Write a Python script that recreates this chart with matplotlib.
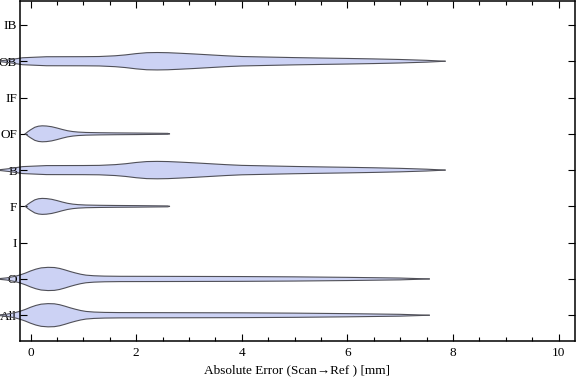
import numpy as np
import matplotlib.pyplot as plt
from matplotlib.ticker import MultipleLocator

plt.rcParams['font.family'] = ['Liberation Serif', 'DejaVu Serif']

# categories, bottom to top
categories = ["All", "O", "I", "F", "B", "OF", "IF", "OB", "IB"]

# violin outlines: error (mm) -> half width (row units)
o_x = [-0.59, -0.45, -0.3, -0.2, -0.1, 0.0, 0.1, 0.2, 0.33, 0.45, 0.55, 0.65, 0.75, 0.85,
       0.95, 1.05, 1.2, 1.4, 1.7, 2.5, 4.0, 5.0, 6.0, 7.0, 7.55]
o_w = [0.01, 0.03, 0.07, 0.11, 0.16, 0.22, 0.27, 0.305, 0.32, 0.315, 0.29, 0.25, 0.205, 0.165,
       0.13, 0.105, 0.088, 0.078, 0.073, 0.071, 0.066, 0.058, 0.044, 0.025, 0.0]

ob_x = [-0.59, -0.4, -0.15, 0.3, 1.0, 1.3, 1.6, 1.8, 2.0, 2.2, 2.4, 2.6, 2.8, 3.1, 3.4, 3.7,
        4.0, 4.5, 5.0, 5.5, 6.0, 6.5, 7.0, 7.5, 7.85]
ob_w = [0.01, 0.04, 0.096, 0.124, 0.126, 0.13, 0.15, 0.175, 0.21, 0.235, 0.24, 0.235, 0.222,
        0.2, 0.175, 0.15, 0.13, 0.115, 0.1, 0.088, 0.077, 0.064, 0.048, 0.025, 0.0]

f_x = [-0.1, -0.05, 0.0, 0.08, 0.15, 0.22, 0.3, 0.4, 0.5, 0.6, 0.7, 0.8, 0.9, 1.05, 1.3,
       1.6, 2.0, 2.6, 2.63]
f_w = [0.0, 0.06, 0.11, 0.18, 0.21, 0.22, 0.215, 0.195, 0.16, 0.12, 0.085, 0.062, 0.048,
       0.037, 0.03, 0.025, 0.021, 0.012, 0.0]

profiles = {
    "All": (o_x, o_w),
    "O": (o_x, o_w),
    "F": (f_x, f_w),
    "B": (ob_x, ob_w),
    "OF": (f_x, f_w),
    "OB": (ob_x, ob_w),
}

fig = plt.figure(figsize=(5.76, 3.81), dpi=100)
ax = fig.add_axes([20 / 576, 40 / 381, 555 / 576, 340 / 381])

fill_col = "#ccd2f4"
edge_col = "#505058"

for i, cat in enumerate(categories):
    y0 = i + 1
    if cat not in profiles:
        continue
    xs, ws = profiles[cat]
    xs = np.array(xs)
    ws = np.array(ws)
    # fill under the tick labels, outline on top (as in the original)
    ax.fill_between(xs, y0 - ws, y0 + ws, facecolor=fill_col, edgecolor="none",
                    zorder=1, clip_on=False)
    ax.plot(xs, y0 + ws, color=edge_col, lw=0.8, zorder=2.1, clip_on=False)
    ax.plot(xs, y0 - ws, color=edge_col, lw=0.8, zorder=2.1, clip_on=False)

ax.set_xlim(-0.2, 10.31)
ax.set_ylim(0.29, 9.66)
ax.set_yticks(range(1, len(categories) + 1))
ax.set_yticklabels(categories)
ax.xaxis.set_major_locator(MultipleLocator(2))
ax.xaxis.set_minor_locator(MultipleLocator(0.5))

ax.tick_params(axis="both", which="both", direction="in", top=True, right=True,
               labelsize=9.5, colors="black")
ax.tick_params(axis="x", which="major", length=5, width=0.8, pad=4)
ax.tick_params(axis="x", which="minor", length=3, width=0.8)
ax.tick_params(axis="y", which="major", length=5, width=0.8, pad=2)
for s in ax.spines.values():
    s.set_linewidth(1.1)

ax.set_xlabel("Absolute Error (Scan\u2192Ref ) [mm]", fontsize=9.5, labelpad=4)

fig.savefig("out.png", dpi=100)
